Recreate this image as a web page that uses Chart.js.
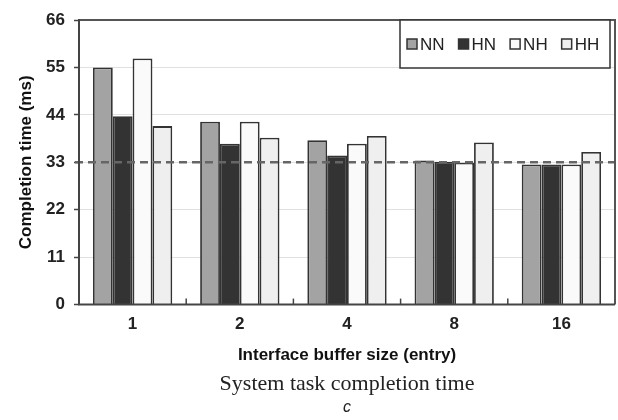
<!DOCTYPE html>
<html>
<head>
<meta charset="utf-8">
<script src="https://cdn.jsdelivr.net/npm/chart.js@4.4.1/dist/chart.umd.min.js"></script>
<style>
  html, body { margin: 0; padding: 0; background: #fff; }
  #wrap { width: 618px; height: 420px; position: relative; }
</style>
</head>
<body>
<div id="wrap"><canvas id="c" width="618" height="420"></canvas></div>
<script>
const categories = ['1', '2', '4', '8', '16'];
const seriesNames = ['NN', 'HN', 'NH', 'HH'];
const seriesNN = [55.0, 42.4, 38.1, 33.4, 32.5];
const seriesHN = [43.7, 37.3, 34.6, 33.1, 32.5];
const seriesNH = [57.1, 42.4, 37.3, 32.9, 32.5];
const seriesHH = [41.4, 38.7, 39.1, 37.6, 35.4];
const yTicks = [0, 11, 22, 33, 44, 55, 66];
const referenceValue = 33;
const xTitle = 'Interface buffer size (entry)';
const yTitle = 'Completion time (ms)';
const caption = 'System task completion time';
const panelLabel = 'c';

const fillColors = ['#a3a3a3', '#333333', '#fafafa', '#efefef'];
const seriesValues = [seriesNN, seriesHN, seriesNH, seriesHH];

const extras = {
  id: 'extras',
  afterDatasetsDraw(chart) {
    const ctx = chart.ctx;
    const a = chart.chartArea;
    const y = chart.scales.y;
    const x = chart.scales.x;
    ctx.save();
    // dashed reference line
    const yr = y.getPixelForValue(referenceValue);
    ctx.strokeStyle = '#666';
    ctx.lineWidth = 2.5;
    ctx.setLineDash([8, 5]);
    ctx.beginPath();
    ctx.moveTo(a.left - 4, yr);
    ctx.lineTo(a.right, yr);
    ctx.stroke();
    ctx.setLineDash([]);
    // box border
    ctx.strokeStyle = '#555';
    ctx.lineWidth = 2;
    ctx.beginPath();
    ctx.moveTo(a.left, a.top);
    ctx.lineTo(a.right, a.top);
    ctx.lineTo(a.right, a.bottom);
    ctx.stroke();
    ctx.strokeStyle = '#444';
    ctx.beginPath();
    ctx.moveTo(a.left, a.top - 1);
    ctx.lineTo(a.left, a.bottom);
    ctx.lineTo(a.right, a.bottom);
    ctx.stroke();
    // category boundary ticks (inside)
    ctx.lineWidth = 1.5;
    for (let i = 1; i < categories.length; i++) {
      const px = (x.getPixelForValue(i - 1) + x.getPixelForValue(i)) / 2;
      ctx.beginPath();
      ctx.moveTo(px, a.bottom);
      ctx.lineTo(px, a.bottom - 6);
      ctx.stroke();
    }
    // legend
    const lx = 400, ly = a.top, lw = a.right - 5 - 400, lh = 48;
    ctx.fillStyle = '#fff';
    ctx.fillRect(lx, ly, lw, lh);
    ctx.strokeStyle = '#333';
    ctx.lineWidth = 1.5;
    ctx.strokeRect(lx, ly, lw, lh);
    ctx.font = '17px "Liberation Sans", Arial, sans-serif';
    ctx.textBaseline = 'middle';
    ctx.textAlign = 'left';
    let cx = lx + 7;
    const cy = ly + 24;
    chart.data.datasets.forEach((ds, i) => {
      ctx.fillStyle = ds.backgroundColor;
      ctx.fillRect(cx, cy - 5, 10, 10);
      ctx.strokeStyle = '#333';
      ctx.lineWidth = 1.5;
      ctx.strokeRect(cx, cy - 5, 10, 10);
      ctx.fillStyle = '#222';
      ctx.fillText(ds.label, cx + 13, cy + 1);
      cx += 13 + ctx.measureText(ds.label).width + 14;
    });
    ctx.restore();
  }
};

new Chart(document.getElementById('c'), {
  type: 'bar',
  data: {
    labels: categories,
    datasets: seriesNames.map((n, i) => ({
      label: n,
      data: seriesValues[i],
      backgroundColor: fillColors[i],
      borderColor: '#333',
      borderWidth: 1.8,
      categoryPercentage: 0.74,
      barPercentage: 1.0
    }))
  },
  options: {
    responsive: false,
    animation: false,
    devicePixelRatio: 1,
    layout: { padding: { left: 0, right: 3, top: 20, bottom: 3 } },
    plugins: {
      legend: { display: false },
      tooltip: { enabled: false },
      title: {
        display: true,
        position: 'bottom',
        fullSize: false,
        text: caption,
        weight: 1000,
        color: '#222',
        font: { family: '"Liberation Serif", "Times New Roman", serif', size: 22, weight: 'normal' },
        padding: { top: 6, bottom: 0 }
      },
      subtitle: {
        display: true,
        position: 'bottom',
        fullSize: false,
        text: panelLabel,
        weight: 2000,
        color: '#222',
        font: { family: '"Liberation Sans", Arial, sans-serif', size: 16, style: 'italic' },
        padding: { top: 0, bottom: 0 }
      }
    },
    scales: {
      x: {
        grid: { display: false, drawTicks: false },
        border: { display: false },
        ticks: {
          color: '#222',
          padding: 10,
          font: { family: '"Liberation Sans", Arial, sans-serif', size: 17, weight: 'bold' }
        },
        title: {
          display: true,
          text: xTitle,
          color: '#111',
          font: { family: '"Liberation Sans", Arial, sans-serif', size: 17, weight: 'bold' },
          padding: { top: 0, bottom: 0 }
        }
      },
      y: {
        min: 0,
        max: 66,
        afterBuildTicks(scale) { scale.ticks = yTicks.map(v => ({ value: v })); },
        afterFit(scale) { scale.width = 79; },
        grid: { color: '#e0e0e0', lineWidth: 1, tickLength: 5, tickColor: '#444', tickWidth: 1.5 },
        border: { display: false },
        ticks: {
          color: '#222',
          padding: 9,
          font: { family: '"Liberation Sans", Arial, sans-serif', size: 17, weight: 'bold' }
        },
        title: {
          display: true,
          text: yTitle,
          color: '#111',
          font: { family: '"Liberation Sans", Arial, sans-serif', size: 17, weight: 'bold' },
          padding: { top: 16, bottom: 4 }
        }
      }
    }
  },
  plugins: [extras]
});
</script>
</body>
</html>
